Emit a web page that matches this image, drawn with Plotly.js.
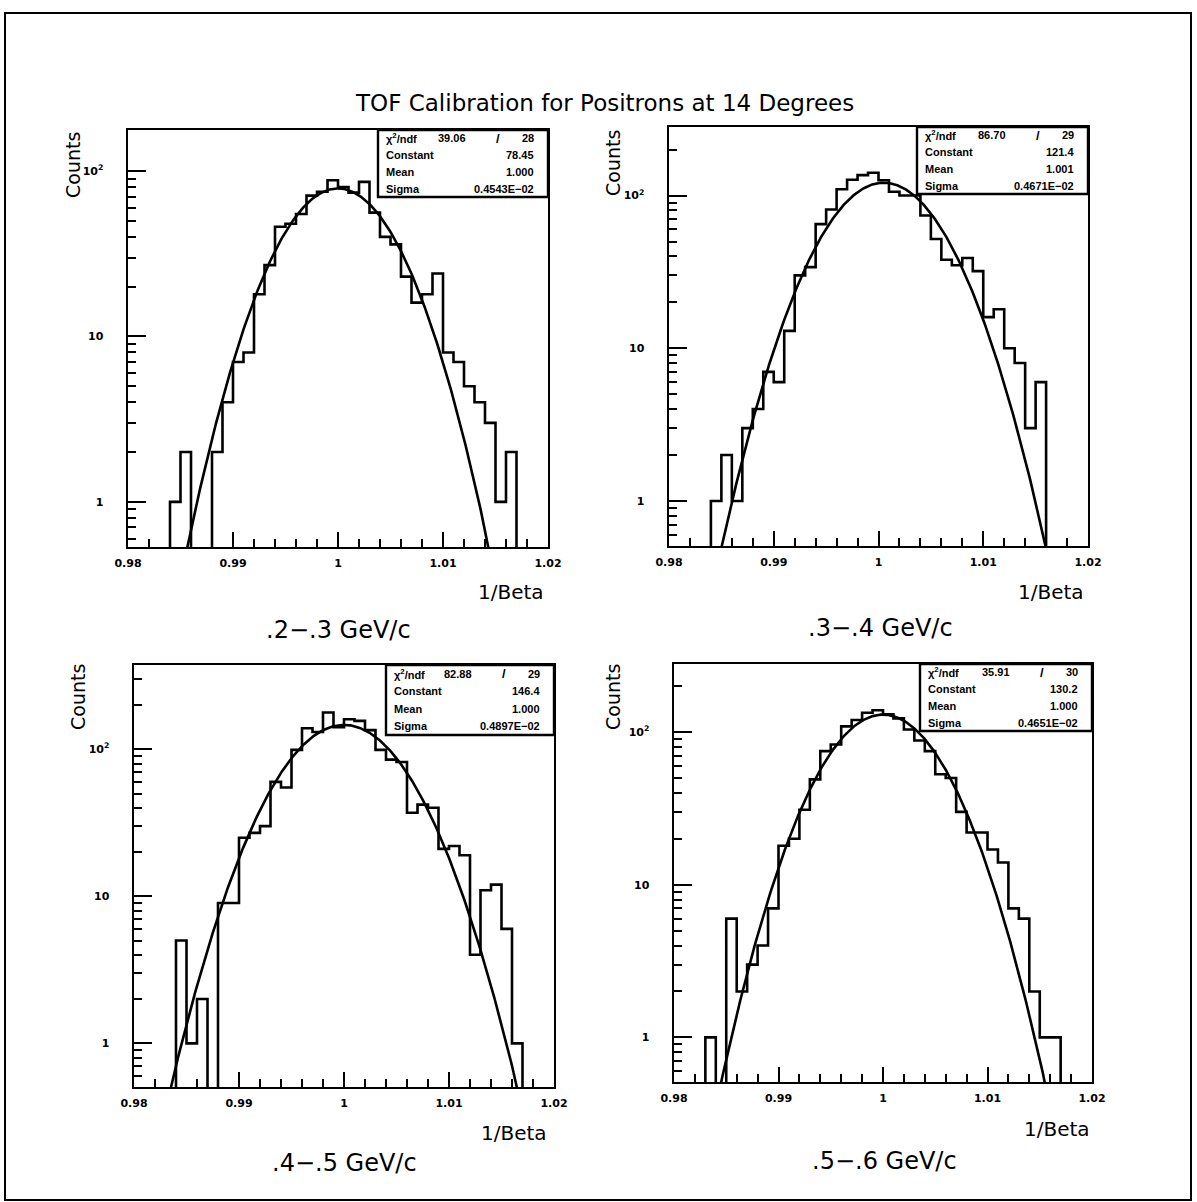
<!DOCTYPE html>
<html>
<head>
<meta charset="utf-8">
<script src="https://cdn.plot.ly/plotly-3.0.1.min.js"></script>
<style>html,body{margin:0;padding:0;background:#fff;}#chart{width:1197px;height:1202px;}</style>
</head>
<body>
<div id="chart"></div>
<script>
// ---------------- data ----------------
const momentumBins = ['.2\u2212.3 GeV/c', '.3\u2212.4 GeV/c', '.4\u2212.5 GeV/c', '.5\u2212.6 GeV/c'];
const binWidth = 0.001;
const binLow = [0.984, 0.984, 0.984, 0.983];
const counts1 = [1,2,0,0,2,4,7,8,18,27,46,48,55,71,75,88,80,74,86,56,40,36,23,16,18,24,8,7,5,4,3,1,2];
const counts2 = [1,2,1,3,4,7,6,13,30,34,65,81,110,127,136,141,126,106,100,100,74,52,38,35,39,32,16,18,10,8,3,6];
const counts3 = [5,1,2,0,9,9,25,27,30,60,55,99,139,131,178,141,160,156,135,99,85,82,37,42,40,21,22,19,4,11,12,6,1];
const counts4 = [1,0,6,2,3,4,7,18,20,31,49,75,83,109,120,134,139,131,123,104,88,75,53,50,30,22,22,17,14,7,6,2,1,1];
const fitConstant = [78.45, 121.4, 146.4, 130.2];
const fitMean = [1.000, 1.0005, 1.000, 1.000];
const fitSigma = [0.004543, 0.004671, 0.004897, 0.004651];
const chi2Text = ['39.06', '86.70', '82.88', '35.91'];
const ndfText = ['28', '29', '29', '30'];
const constText = ['78.45', '121.4', '146.4', '130.2'];
const meanText = ['1.000', '1.001', '1.000', '1.000'];
const sigmaText = ['0.4543E\u221202', '0.4671E\u221202', '0.4897E\u221202', '0.4651E\u221202'];
const xTickVals = [0.98, 0.99, 1, 1.01, 1.02];
const xTickText = ['0.98', '0.99', '1', '1.01', '1.02'];
const yTickVals = [1, 10, 100];
const yTickText = ['1', '10', '10<sup>2</sup>'];
const allCounts = [counts1, counts2, counts3, counts4];

// ---------------- layout geometry (pixels) ----------------
const W = 1197, H = 1202;
const px = v => v / W;
const py = v => 1 - v / H;
// [left, top, right, bottom]
const frames = [
  [128, 130, 548, 547],
  [669, 127, 1088, 546],
  [134, 665, 554, 1087],
  [674, 664, 1092, 1082]
];
const yRanges = [[-0.273, 2.248], [-0.295, 2.449], [-0.297, 2.573], [-0.292, 2.446]];
const statBoxes = [
  [378, 130, 548, 197],
  [917, 127, 1088, 194],
  [386, 665, 554, 735],
  [920, 664, 1092, 731]
];
const countsLabelPos = [[73, 165], [613, 163], [78, 697], [613, 697]];
const betaLabelPos = [[511, 592], [1051, 592], [514, 1133], [1057, 1129]];
const subLabelPos = [[338, 630], [880, 628], [344, 1163], [884, 1161]];

const FONT = 'DejaVu Sans';
const traces = [];
const layout = {
  width: W, height: H,
  margin: {l: 0, r: 0, t: 0, b: 0},
  paper_bgcolor: '#fff', plot_bgcolor: 'rgba(0,0,0,0)',
  showlegend: false,
  shapes: [], annotations: []
};

layout.shapes.push({type: 'rect', xref: 'paper', yref: 'paper',
  x0: px(5), x1: px(1191), y0: py(13), y1: py(1200),
  line: {color: '#000', width: 2}, fillcolor: 'rgba(0,0,0,0)'});

layout.annotations.push({xref: 'paper', yref: 'paper', x: px(604), y: py(103),
  text: 'TOF Calibration for Positrons at 14 Degrees', showarrow: false,
  font: {family: FONT, size: 23, color: '#000'}, xanchor: 'center', yanchor: 'middle'});

for (let i = 0; i < 4; i++) {
  const n = i + 1;
  const xa = 'x' + (n === 1 ? '' : n), ya = 'y' + (n === 1 ? '' : n);
  const f = frames[i];
  const c = allCounts[i];
  // histogram step line (empty bins drop below the axis floor)
  const floorVal = 1e-3;
  const hx = [binLow[i]], hy = [floorVal];
  for (let k = 0; k < c.length; k++) {
    hx.push(binLow[i] + k * binWidth);
    hy.push(c[k] > 0 ? c[k] : floorVal);
  }
  hx.push(binLow[i] + c.length * binWidth);
  hy.push(floorVal);
  traces.push({x: hx, y: hy, type: 'scatter', mode: 'lines', line: {shape: 'hv', color: '#000', width: 2.6},
    xaxis: xa, yaxis: ya, hoverinfo: 'skip'});
  // gaussian fit curve from the fit parameters
  const fx = [], fy = [];
  for (let t = 0; t <= 400; t++) {
    const xv = 0.98 + t * 0.0001;
    fx.push(xv);
    fy.push(fitConstant[i] * Math.exp(-0.5 * Math.pow((xv - fitMean[i]) / fitSigma[i], 2)));
  }
  traces.push({x: fx, y: fy, type: 'scatter', mode: 'lines', line: {color: '#000', width: 2.6},
    xaxis: xa, yaxis: ya, hoverinfo: 'skip'});

  layout['xaxis' + (n === 1 ? '' : n)] = {
    domain: [px(f[0]), px(f[2])], anchor: ya, range: [0.98, 1.02],
    title: {text: ''},
    showgrid: false, zeroline: false, showline: true, mirror: true, linecolor: '#000', linewidth: 2.4,
    ticks: 'inside', ticklen: 15, tickwidth: 2, tickcolor: '#000',
    tickvals: xTickVals, ticktext: xTickText, ticklabelstandoff: 4,
    tickfont: {family: FONT, size: 11, color: '#000', weight: 'bold'},
    minor: {dtick: 0.002, tick0: 0.98, ticks: 'inside', ticklen: 8, tickwidth: 2, tickcolor: '#000', showgrid: false}
  };
  layout['yaxis' + (n === 1 ? '' : n)] = {
    domain: [py(f[3]), py(f[1])], anchor: xa, type: 'log', range: yRanges[i],
    title: {text: ''},
    showgrid: false, zeroline: false, showline: true, mirror: true, linecolor: '#000', linewidth: 2.4,
    ticks: 'inside', ticklen: 18, tickwidth: 2, tickcolor: '#000',
    tickvals: yTickVals, ticktext: yTickText, ticklabelstandoff: 20,
    tickfont: {family: FONT, size: 11, color: '#000', weight: 'bold'},
    minor: {dtick: 'D1', ticks: 'inside', ticklen: 8, tickwidth: 2, tickcolor: '#000', showgrid: false}
  };

  // stats box
  const b = statBoxes[i];
  layout.shapes.push({type: 'rect', xref: 'paper', yref: 'paper',
    x0: px(b[0]), x1: px(b[2]), y0: py(b[3]), y1: py(b[1]),
    line: {color: '#000', width: 2.4}, fillcolor: '#fff', layer: 'above'});
  const rowH = (b[3] - b[1]) / 4;
  const sf = {family: 'Liberation Sans', size: 11, color: '#000', weight: 'bold'};
  const rows = [
    ['\u03c7<sup>2</sup>/ndf', ndfText[i]],
    ['Constant', constText[i]],
    ['Mean', meanText[i]],
    ['Sigma', sigmaText[i]]
  ];
  rows.forEach((r, k) => {
    const yc = py(b[1] + rowH * (k + 0.5));
    layout.annotations.push({xref: 'paper', yref: 'paper', x: px(b[0] + 6), y: yc, text: r[0],
      showarrow: false, xanchor: 'left', yanchor: 'middle', font: sf});
    layout.annotations.push({xref: 'paper', yref: 'paper', x: px(b[2] - 12), y: yc, text: r[1],
      showarrow: false, xanchor: 'right', yanchor: 'middle', font: sf});
  });
  const y0r = py(b[1] + rowH * 0.5);
  layout.annotations.push({xref: 'paper', yref: 'paper', x: px(b[2] - 80), y: y0r, text: chi2Text[i],
    showarrow: false, xanchor: 'right', yanchor: 'middle', font: sf});
  layout.annotations.push({xref: 'paper', yref: 'paper', x: px(b[2] - 50), y: y0r, text: '/',
    showarrow: false, xanchor: 'center', yanchor: 'middle', font: {family: 'Liberation Sans', size: 13, color: '#000', weight: 'bold'}});

  // axis labels and panel label
  layout.annotations.push({xref: 'paper', yref: 'paper', x: px(countsLabelPos[i][0]), y: py(countsLabelPos[i][1]),
    text: 'Counts', textangle: -90, showarrow: false, xanchor: 'center', yanchor: 'middle',
    font: {family: FONT, size: 19, color: '#000'}});
  layout.annotations.push({xref: 'paper', yref: 'paper', x: px(betaLabelPos[i][0]), y: py(betaLabelPos[i][1]),
    text: '1/Beta', showarrow: false, xanchor: 'center', yanchor: 'middle',
    font: {family: FONT, size: 20, color: '#000'}});
  layout.annotations.push({xref: 'paper', yref: 'paper', x: px(subLabelPos[i][0]), y: py(subLabelPos[i][1]),
    text: momentumBins[i], showarrow: false, xanchor: 'center', yanchor: 'middle',
    font: {family: FONT, size: 24, color: '#000'}});
}

Plotly.newPlot('chart', traces, layout, {staticPlot: true, displayModeBar: false});
</script>
</body>
</html>
